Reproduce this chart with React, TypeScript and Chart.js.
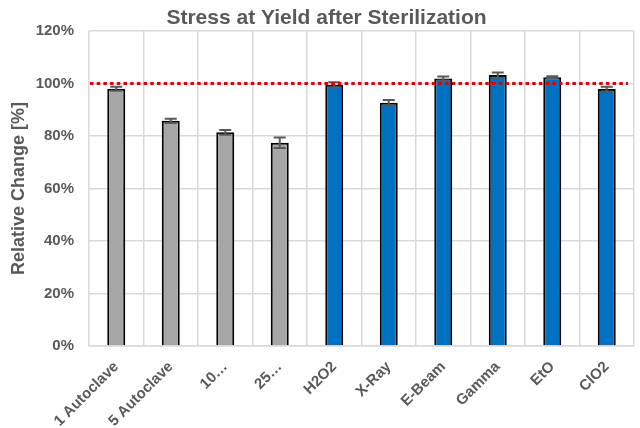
import React, { useEffect, useRef } from "react";
import { Chart, registerables } from "chart.js";

Chart.register(...registerables);

const categories = ["1 Autoclave", "5 Autoclave", "10…", "25…", "H2O2", "X-Ray", "E-Beam", "Gamma", "EtO", "ClO2"];
const values = [98.0, 85.8, 81.4, 77.4, 99.5, 92.7, 101.9, 103.2, 102.4, 97.9];
const errors = [0.8, 0.8, 0.9, 2.0, 1.0, 1.0, 0.8, 1.0, 0.4, 0.9];
const barColors = ["#A6A6A6", "#A6A6A6", "#A6A6A6", "#A6A6A6", "#0070C0", "#0070C0", "#0070C0", "#0070C0", "#0070C0", "#0070C0"];
const referenceLevel = 100;
const yTicks = [0, 20, 40, 60, 80, 100, 120];
const titleText = "Stress at Yield after Sterilization";
const yTitle = "Relative Change [%]";

const FONT = "'Liberation Sans', Arial, sans-serif";
const TEXT = "#595959";

const overlay = {
  id: "overlay",
  afterDatasetsDraw(chart: any) {
    const ctx = chart.ctx;
    const x = chart.scales.x;
    const y = chart.scales.y;
    const area = chart.chartArea;
    // error bars
    ctx.save();
    ctx.strokeStyle = "#595959";
    ctx.lineWidth = 2;
    values.forEach((v, i) => {
      const cx = x.getPixelForValue(i);
      const yt = y.getPixelForValue(v + errors[i]);
      const yb = y.getPixelForValue(v - errors[i]);
      ctx.beginPath();
      ctx.moveTo(cx, yt);
      ctx.lineTo(cx, yb);
      ctx.moveTo(cx - 6, yt);
      ctx.lineTo(cx + 6, yt);
      ctx.moveTo(cx - 6, yb);
      ctx.lineTo(cx + 6, yb);
      ctx.stroke();
    });
    // reference line
    const ry = y.getPixelForValue(referenceLevel);
    ctx.strokeStyle = "#E00000";
    ctx.lineWidth = 3;
    ctx.setLineDash([3.5, 3.2]);
    ctx.beginPath();
    ctx.moveTo(area.left + 1, ry);
    ctx.lineTo(area.right - 6, ry);
    ctx.stroke();
    ctx.restore();
    // title
    ctx.save();
    ctx.fillStyle = TEXT;
    ctx.font = `bold 21px ${FONT}`;
    ctx.textAlign = "center";
    ctx.textBaseline = "middle";
    ctx.fillText(titleText, 326.5, 18.5);
    ctx.restore();
  },
};

export default function App() {
  const ref = useRef<HTMLCanvasElement>(null);
  useEffect(() => {
    document.body.style.margin = "0";
    const chart = new Chart(ref.current!, {
      type: "bar",
      data: {
        labels: categories,
        datasets: [
          {
            data: values,
            backgroundColor: barColors,
            borderColor: "#000000",
            borderWidth: 2,
            barPercentage: 0.33,
            categoryPercentage: 1,
          },
        ],
      },
      options: {
        animation: false,
        responsive: true,
        maintainAspectRatio: false,
        layout: { padding: { top: 31, right: 6, left: 8, bottom: 0 } },
        plugins: { legend: { display: false }, title: { display: false }, tooltip: { enabled: false } },
        scales: {
          x: {
            grid: { color: "#D9D9D9", lineWidth: 1.5, offset: true, drawTicks: false },
            border: { color: "#D9D9D9", width: 1.5 },
            ticks: {
              color: TEXT,
              font: { family: FONT, size: 15, weight: "bold" },
              maxRotation: 45,
              minRotation: 45,
              autoSkip: false,
              padding: 12,
            },
            afterFit(scale: any) {
              scale.height = 82;
            },
          },
          y: {
            min: 0,
            max: 120,
            afterBuildTicks(scale: any) {
              scale.ticks = yTicks.map((v) => ({ value: v }));
            },
            grid: { color: "#D9D9D9", lineWidth: 1.5, drawTicks: false },
            border: { display: false },
            ticks: {
              color: TEXT,
              font: { family: FONT, size: 15, weight: "bold" },
              padding: 15,
              callback: (v: any) => `${v}%`,
            },
            title: {
              display: true,
              text: yTitle,
              color: TEXT,
              font: { family: FONT, size: 18, weight: "bold" },
              padding: 0,
            },
            afterFit(scale: any) {
              scale.width = 81;
            },
          },
        },
      },
      plugins: [overlay],
    });
    return () => chart.destroy();
  }, []);
  return (
    <div style={{ position: "absolute", left: 0, top: 0, width: 640, height: 428 }}>
      <canvas ref={ref} />
    </div>
  );
}
